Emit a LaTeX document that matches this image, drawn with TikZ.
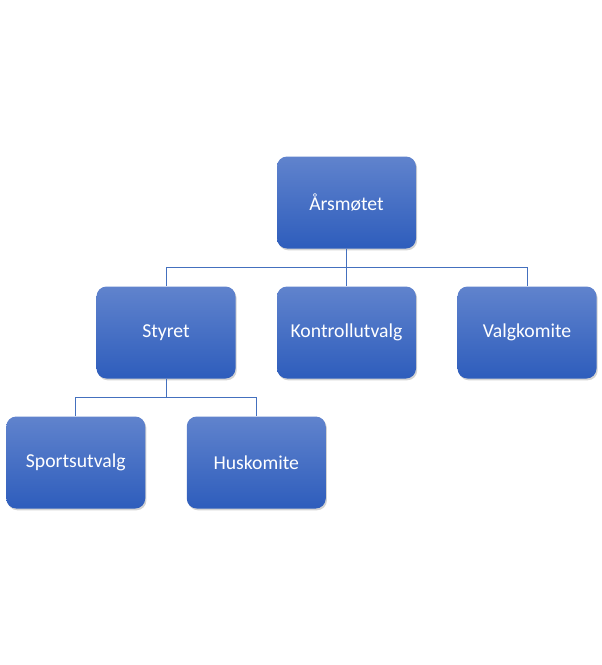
\documentclass[tikz,border=0pt]{standalone}
\usepackage{fontspec}
\setmainfont{Carlito}
\usepackage{tikz}
\usetikzlibrary{shadows}
\definecolor{boxtop}{RGB}{96,131,205}
\definecolor{boxbottom}{RGB}{46,93,188}
\definecolor{linkcol}{RGB}{68,112,190}
\tikzset{
    orgnode/.style = {
        align=center,
        inner sep=0pt,
        text centered,
        text=white,
        font=\fontsize{19.7pt}{22pt}\selectfont,
        rectangle,
        rounded corners=10pt,
        draw=none,
        top color=boxtop,
        bottom color=boxbottom,
        drop shadow={shadow xshift=1.2pt, shadow yshift=-1.8pt, opacity=0.35},
        minimum width=139pt,
        minimum height=92pt
    },
    leafnode/.style = {
        orgnode,
    }
}
\begin{document}
\begin{tikzpicture}[
                level/.style={
                    sibling distance = 180.5pt,
                    level distance = 130pt
                },
                edge from parent/.style={draw=linkcol, line width=1pt},
                edge from parent path={(\tikzparentnode.south) -- +(0,-18.75pt) -| (\tikzchildnode.north)}
            ]
            \useasboundingbox (0,0) rectangle (602pt,-665pt);
            \node [orgnode] (aarsmote) at (346.5pt,-202.5pt) {Årsmøtet}
                child{ node [orgnode] (styret) {Styret}
                    child{ node [leafnode] (sport) {Sportsutvalg} }
                    child{ node [leafnode] (hus) {Huskomite} }
                }
                child{ node [leafnode] (kontroll) {Kontrollutvalg} }
                child{ node [leafnode] (valg) {Valgkomite} };
        \end{tikzpicture}
\end{document}
